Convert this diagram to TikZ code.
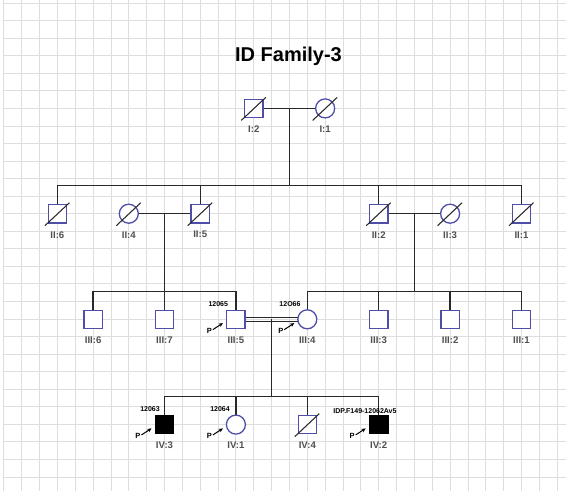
\documentclass[tikz,border=0pt]{standalone}
\usepackage{fontspec}
\setmainfont{Liberation Sans}
\usetikzlibrary{arrows.meta,calc}
\definecolor{symc}{RGB}{78,78,168}
\definecolor{gridc}{RGB}{222,222,222}
\definecolor{labc}{RGB}{80,80,80}
\definecolor{linec}{RGB}{40,40,40}
\begin{document}
\begin{tikzpicture}[x=1pt,y=-1pt,
  male/.style={draw=symc, line width=1.3pt, rectangle, minimum size=18.3pt, inner sep=0pt, fill=white},
  female/.style={draw=symc, line width=1.3pt, circle, minimum size=19pt, inner sep=0pt, fill=white},
  affm/.style={rectangle, minimum size=18.3pt, inner sep=0pt, draw=black, fill=black, line width=1.3pt},
  lab/.style={font=\fontsize{9.6}{10}\selectfont\bfseries, text=labc, inner sep=0pt},
  idt/.style={font=\fontsize{7}{8}\selectfont\bfseries, text=black, inner sep=0pt},
  pt/.style={font=\fontsize{7.5}{8}\selectfont\bfseries, text=black, inner sep=0pt},
  conn/.style={draw=linec, line width=1.25pt},
  dslash/.style={draw=linec, line width=1.05pt},
  prob/.style={-{Stealth[length=4.2pt,width=3.8pt]}, draw=black, line width=1pt},
  gridline/.style={draw=gridc, line width=0.9pt}
]
\useasboundingbox (0,0) rectangle (566,491);
\fill[white] (0,0) rectangle (566,491);
% grid
\foreach \k in {0,...,31} \draw[gridline] ({3.85+17.85*\k},0) -- ({3.85+17.85*\k},491);
\foreach \j in {0,...,27} \draw[gridline] (3.85,{3.1+17.55*\j}) -- (566,{3.1+17.55*\j});

% title
\node[font=\fontsize{20}{22}\selectfont\bfseries, inner sep=0pt] (title) at (288.5,56) {ID Family-3};

% sibship / descent coordinates
\coordinate (s1) at (289.45,185.5);
\coordinate (s2) at (164.5,291.7);
\coordinate (s3) at (414.4,291.7);
\coordinate (s4) at (271.6,396.7);

% connectors (drawn first, symbols on top)
% generation I
\coordinate (m1) at (289.45,108.4);
\draw[conn] (253.75,108.4) -- (325.15,108.4);
\draw[conn] (m1) -- (s1);
\draw[conn] (57.4,213.7) |- (s1) -| (521.5,213.7);
\draw[conn] (200.2,213.7) -- (200.2,185.5);
\draw[conn] (378.7,213.7) -- (378.7,185.5);
% couples generation II
\coordinate (m2) at (164.5,213.7);
\coordinate (m3) at (414.4,213.7);
\draw[conn] (128.8,213.7) -- (200.2,213.7);
\draw[conn] (378.7,213.7) -- (450.1,213.7);
\draw[conn] (m2) -- (164.5,319.3);
\draw[conn] (93.1,319.3) |- (s2) -| (235.9,319.3);
\draw[conn] (m3) -- (s3);
\draw[conn] (307.3,319.3) |- (s3) -| (521.5,319.3);
\draw[conn] (378.7,319.3) -- (378.7,291.7);
\draw[conn] (450.1,319.3) -- (450.1,291.7);
% consanguineous couple
\coordinate (m4) at (271.6,319.3);
\draw[conn] (235.9,317.3) -- (307.3,317.3);
\draw[conn] (235.9,321.3) -- (307.3,321.3);
\draw[conn] (m4) -- (s4);
\draw[conn] (164.5,424.6) |- (s4) -| (378.7,424.6);
\draw[conn] (235.9,424.6) -- (235.9,396.7);
\draw[conn] (307.3,424.6) -- (307.3,396.7);

% generation I
\node[male] (I2) at (253.75,108.4) {};
\node[female] (I1) at (325.15,108.4) {};
% generation II
\node[male] (II6) at (57.4,213.7) {};
\node[female] (II4) at (128.8,213.7) {};
\node[male] (II5) at (200.2,213.7) {};
\node[male] (II2) at (378.7,213.7) {};
\node[female] (II3) at (450.1,213.7) {};
\node[male] (II1) at (521.5,213.7) {};
% generation III
\node[male] (III6) at (93.1,319.3) {};
\node[male] (III7) at (164.5,319.3) {};
\node[male] (III5) at (235.9,319.3) {};
\node[female] (III4) at (307.3,319.3) {};
\node[male] (III3) at (378.7,319.3) {};
\node[male] (III2) at (450.1,319.3) {};
\node[male] (III1) at (521.5,319.3) {};
% generation IV
\node[affm] (IV3) at (164.5,424.6) {};
\node[female] (IV1) at (235.9,424.6) {};
\node[male] (IV4) at (307.3,424.6) {};
\node[affm] (IV2) at (378.7,424.6) {};

% deceased slashes
\foreach \n in {I2,I1,II6,II4,II5,II2,II3,II1,IV4}
  \draw[dslash] ([shift={(-12.5,12)}]\n.center) -- ([shift={(12,-11)}]\n.center);

% labels
\foreach \n/\t in {I2/I:2,I1/I:1,II6/II:6,II4/II:4,II5/II:5,II2/II:2,II3/II:3,II1/II:1,
  III6/III:6,III7/III:7,III5/III:5,III4/III:4,III3/III:3,III2/III:2,III1/III:1,
  IV3/IV:3,IV1/IV:1,IV4/IV:4,IV2/IV:2}
  \node[lab] (l\n) at ([shift={(0,21)}]\n.center) {\t};

% sample IDs
\node[idt] (idIII5) at (218.3,304) {12065};
\node[idt] (idIII4) at (290,304) {12O66};
\node[idt] (idIV3) at (150,409.3) {12063};
\node[idt] (idIV1) at (220,409.3) {12064};
\node[idt] (idIV2) at (365,410.7) {IDP.F149-12062Av5};

% probands
\foreach \n in {III5,III4,IV3,IV1,IV2} {
  \node[pt] (p\n) at ([shift={(-26.5,11.8)}]\n.center) {P};
  \draw[prob] ([shift={(-23,10.3)}]\n.center) -- ([shift={(-13,3.8)}]\n.center);
}
\end{tikzpicture}
\end{document}
